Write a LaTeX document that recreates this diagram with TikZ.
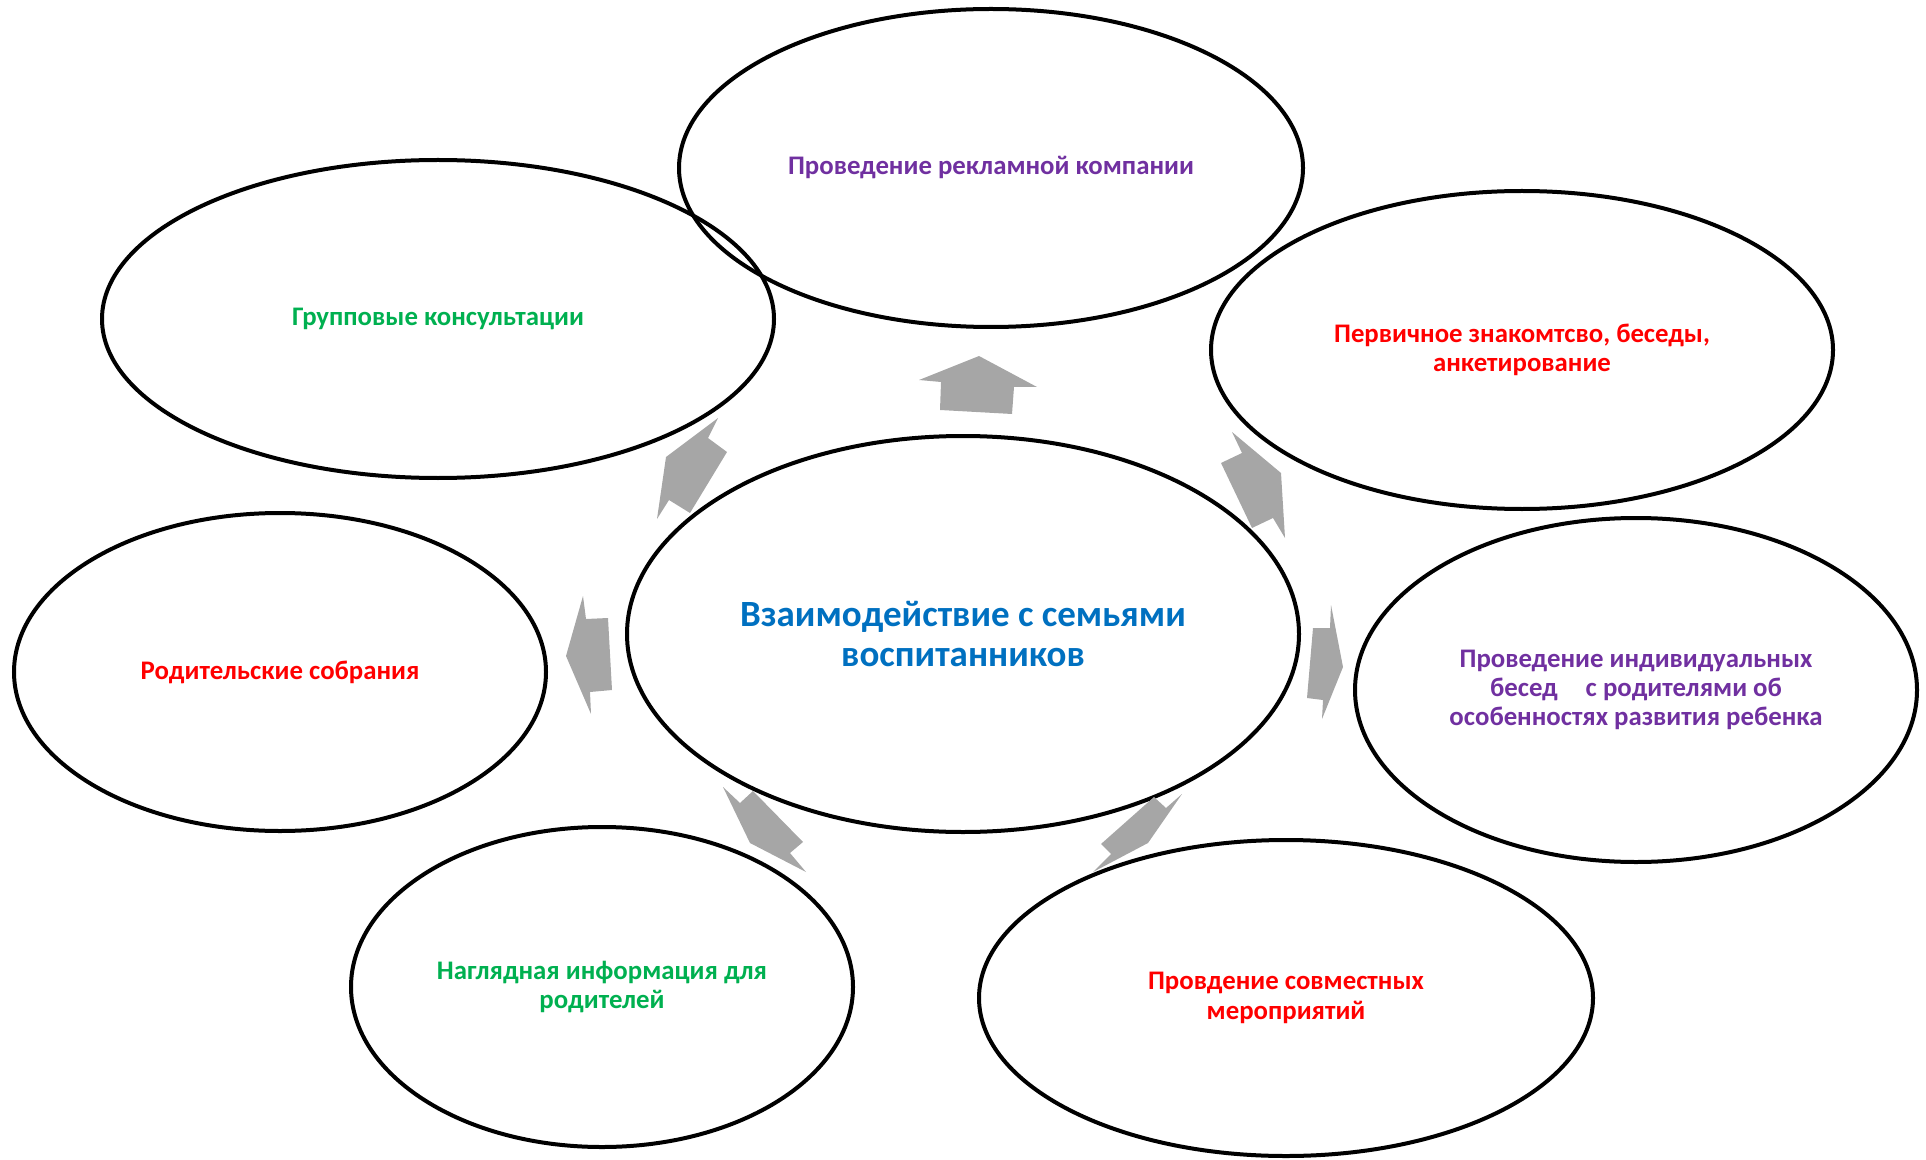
\documentclass[tikz,border=0pt]{standalone}
\usepackage{fontspec}
\setmainfont{Carlito}
\usetikzlibrary{shapes.geometric}
\definecolor{lilac}{HTML}{7030A0}
\definecolor{leaf}{HTML}{00B050}
\definecolor{scarlet}{HTML}{FF0000}
\definecolor{ocean}{HTML}{0070C0}
\definecolor{arrowgray}{HTML}{A6A6A6}
\tikzset{
  oval/.style={ellipse, draw=black, line width=2pt, inner sep=0pt, align=center,
    font=\fontsize{13.4}{14.6}\selectfont\bfseries},
  strelka/.style={fill=arrowgray, draw=none}
}

\begin{document}
\begin{tikzpicture}[x=0.5pt, y=-0.5pt]
    \useasboundingbox (0,0) rectangle (1926,1160);

    % Центральный эллипс
    \node[oval, minimum width=336pt, minimum height=198pt, text=ocean,
          font=\fontsize{18.5}{20.2}\selectfont\bfseries] (center) at (963,634)
          {Взаимодействие с семьями\\воспитанников};

    % Внешние эллипсы
    \node[oval, minimum width=312pt, minimum height=159pt, text=lilac] (reklama) at (991,168)
          {Проведение рекламной компании};
    \node[oval, minimum width=336pt, minimum height=159pt, text=leaf] (gruppa) at (438,319)
          {Групповые консультации};
    \node[oval, minimum width=311pt, minimum height=159pt, text=scarlet] (znakom) at (1522,350)
          {Первичное знакомтсво, беседы,\\анкетирование};
    \node[oval, minimum width=266pt, minimum height=159pt, text=scarlet] (sobranie) at (280,672)
          {Родительские собрания};
    \node[oval, minimum width=281pt, minimum height=172pt, text=lilac] (besedy) at (1636,690)
          {Проведение индивидуальных\\бесед\hspace{14pt}с родителями об\\особенностях развития ребенка};
    \node[oval, minimum width=251pt, minimum height=160pt, text=leaf] (nagl) at (602,987)
          {Наглядная информация для\\родителей};
    \node[oval, minimum width=307pt, minimum height=158pt, text=scarlet] (meropr) at (1286,998)
          {Провдение совместных\\мероприятий};

    % Стрелки
    \fill[strelka] (979,356) -- (1037,387) -- (1014,387) -- (1012,414)
        -- (940,410) -- (941,382) -- (919,380) -- cycle;
    \fill[strelka] (718,418) -- (708,438) -- (727,452) -- (690,513)
        -- (669,500) -- (657,519) -- (666,457) -- cycle;
    \fill[strelka] (1232,432) -- (1281,473) -- (1285,538) -- (1273,518)
        -- (1252,528) -- (1221,463) -- (1242,453) -- cycle;
    \fill[strelka] (583,596) -- (586,619) -- (608,618) -- (612,690)
        -- (590,692) -- (591,714) -- (566,656) -- cycle;
    \fill[strelka] (1331,605) -- (1343,667) -- (1322,719) -- (1323,700)
        -- (1307,698) -- (1313,628) -- (1330,628) -- cycle;
    \fill[strelka] (723,787) -- (740,803) -- (753,791) -- (803,842)
        -- (790,853) -- (806,872) -- (750,843) -- cycle;
    \fill[strelka] (1182,794) -- (1148,843) -- (1093,872) -- (1111,854)
        -- (1101,844) -- (1154,797) -- (1166,808) -- cycle;
\end{tikzpicture}
\end{document}
